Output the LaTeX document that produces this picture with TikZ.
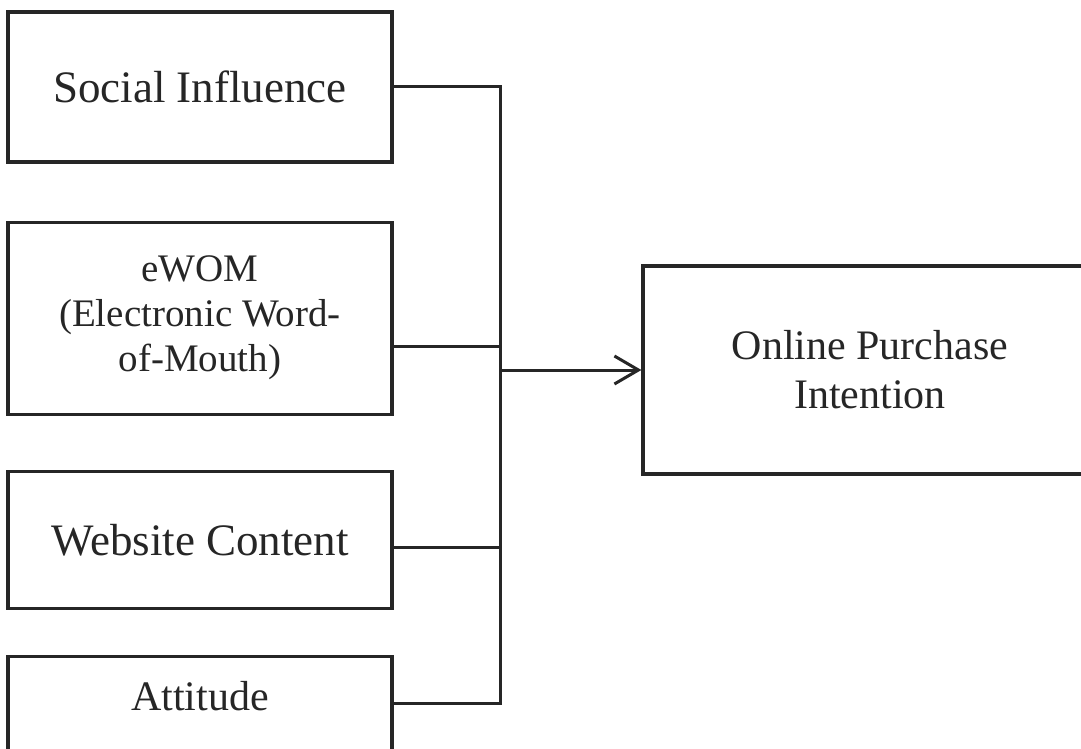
\documentclass[tikz,border=0pt]{standalone}
\usepackage{fontspec}
\setmainfont{Liberation Serif}
\usetikzlibrary{arrows.meta,positioning}
\definecolor{traco}{HTML}{262626}

\begin{document}
\begin{tikzpicture}[
  x=0.5pt,y=-0.5pt,
  node distance=30pt,
  fator/.style={draw=traco,line width=1.6pt,text=traco,align=center,
                minimum width=192pt,inner sep=0pt},
  liga/.style={draw=traco,line width=1.5pt},
  seta/.style={liga,-{Straight Barb[length=12pt,width=14pt,line width=1.5pt]}}
]
  \useasboundingbox (0,0) rectangle (1081,749);
  \clip (0,0) rectangle (1081,749);
  \node[fator,minimum height=75pt,font=\fontsize{22.5}{27}\selectfont] (social) at (200,87) {Social Influence};
  \node[fator,minimum height=96pt,below=28.5pt of social,
        font=\fontsize{19.5}{22.5}\selectfont] (ewom) {eWOM\\(Electronic Word-\\of-Mouth)};
  \node[fator,minimum height=68.5pt,below=27pt of ewom,
        font=\fontsize{22.5}{27}\selectfont] (site) {Website Content};
  \node[fator,below=22.5pt of site,inner ysep=0pt,text height=27pt,text depth=44pt,
        font=\fontsize{21}{25}\selectfont] (atitude) {Attitude};
  \node[fator,minimum width=227pt,minimum height=104pt,
        font=\fontsize{21}{24.5}\selectfont] (intencao) at (870,370) {Online Purchase\\Intention};
  % barramento
  \coordinate (barra) at (500,373);
  \coordinate (a4) at ([yshift=3.5pt]atitude.base east);
  \draw[liga] (social.east) -| (a4 -| barra) -- (a4);
  \draw[liga] ([yshift=-14pt]ewom.east) -- ([yshift=-14pt]ewom.east -| barra);
  \draw[liga] ([yshift=-4pt]site.east) -- ([yshift=-4pt]site.east -| barra);
  \draw[seta] (barra |- intencao.west) -- (intencao.west);
\end{tikzpicture}
\end{document}
